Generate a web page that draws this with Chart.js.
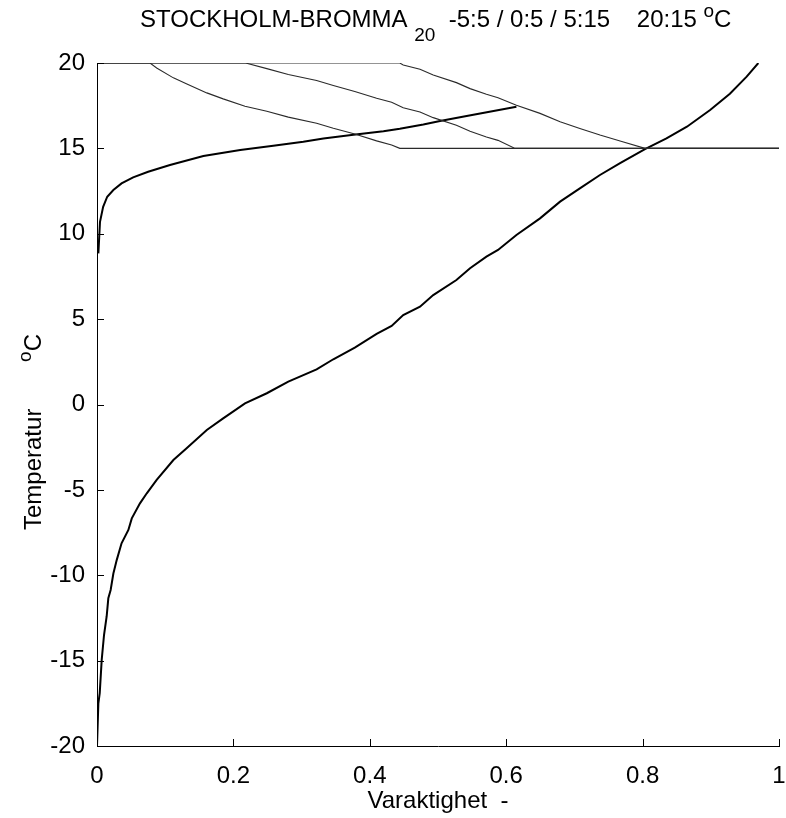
<!DOCTYPE html>
<html>
<head>
<meta charset="utf-8">
<title>STOCKHOLM-BROMMA</title>
<script src="https://cdn.jsdelivr.net/npm/chart.js@4/dist/chart.umd.min.js"></script>
<style>
  html, body { margin: 0; padding: 0; background: #fff; }
  #wrap { width: 786px; height: 818px; }
</style>
</head>
<body>
<div id="wrap"><canvas id="c" width="786" height="818"></canvas></div>
<script>
// Outdoor temperature duration curve (duration fraction -> temperature)
const durationX = [0, 0.002, 0.004, 0.0069, 0.0103, 0.0142, 0.0166, 0.020, 0.024, 0.029, 0.036, 0.046, 0.051, 0.063, 0.073, 0.0875, 0.112, 0.131, 0.161, 0.185, 0.217, 0.249, 0.2805, 0.322, 0.3465, 0.378, 0.41, 0.432, 0.449, 0.4736, 0.493, 0.527, 0.547, 0.571, 0.588, 0.615, 0.6496, 0.679, 0.708, 0.7375, 0.767, 0.8035, 0.835, 0.865, 0.899, 0.928, 0.9526, 0.9697];
const outdoorTemp = [-20, -17.5, -16.9, -14.96, -13.5, -12.4, -11.35, -10.86, -9.9, -9.1, -8.13, -7.35, -6.67, -5.79, -5.2, -4.42, -3.25, -2.57, -1.49, -0.81, 0.07, 0.66, 1.34, 2.06, 2.65, 3.33, 4.13, 4.6, 5.24, 5.73, 6.41, 7.29, 7.98, 8.66, 9.05, 9.93, 10.9, 11.88, 12.66, 13.44, 14.13, 14.95, 15.59, 16.27, 17.25, 18.2, 19.2, 20];

// Rising curve in the upper left
const recoveryX = [0.002, 0.0044, 0.009, 0.015, 0.024, 0.036, 0.053, 0.075, 0.107, 0.156, 0.21, 0.2585, 0.3025, 0.332, 0.376, 0.42, 0.444, 0.4785, 0.503, 0.542, 0.615];
const recoveryTemp = [8.85, 10.7, 11.58, 12.17, 12.56, 12.95, 13.3, 13.63, 14.03, 14.55, 14.9, 15.16, 15.39, 15.58, 15.8, 16.0, 16.15, 16.4, 16.6, 16.9, 17.44];

// Setpoint curves 20 -> 15 (-5:5, 0:10, 5:15)
const curveAX = [0, 0.0777, 0.0875, 0.112, 0.131, 0.161, 0.185, 0.217, 0.249, 0.2805, 0.322, 0.3465, 0.378, 0.41, 0.432, 0.444, 1];
const curveAY = [20, 20, 19.71, 19.13, 18.79, 18.25, 17.9, 17.47, 17.17, 16.83, 16.47, 16.18, 15.84, 15.44, 15.2, 15, 15];

const curveBX = [0, 0.218, 0.249, 0.2805, 0.322, 0.3465, 0.378, 0.41, 0.432, 0.449, 0.4736, 0.493, 0.527, 0.547, 0.571, 0.588, 0.613, 1];
const curveBY = [20, 20, 19.67, 19.33, 18.97, 18.68, 18.33, 17.93, 17.7, 17.38, 17.13, 16.8, 16.35, 16.0, 15.67, 15.47, 15, 15];

const curveCX = [0, 0.444, 0.449, 0.4736, 0.493, 0.527, 0.547, 0.571, 0.588, 0.615, 0.6496, 0.679, 0.708, 0.7375, 0.767, 0.8035, 1];
const curveCY = [20, 20, 19.88, 19.63, 19.3, 18.85, 18.5, 18.17, 17.97, 17.53, 17.05, 16.56, 16.17, 15.78, 15.43, 15, 15];

// Axis ticks
const xTickValues = [0, 0.2, 0.4, 0.6, 0.8, 1];
const yTickValues = [-20, -15, -10, -5, 0, 5, 10, 15, 20];

const FONT = '"Liberation Sans", Arial, Helvetica, sans-serif';
const pts = (xs, ys) => xs.map((x, i) => ({ x: x, y: ys[i] }));

const thin = { borderColor: '#2a2a2a', borderWidth: 1.1 };
const thick = { borderColor: '#000', borderWidth: 2 };

// Draws a run of text pieces (normal, sub, superscript) starting at x
function drawRun(ctx, parts, x, y) {
  parts.forEach(p => {
    ctx.font = p.f;
    ctx.fillText(p.t, x, y + p.dy);
    x += ctx.measureText(p.t).width;
  });
}

// Inward tick marks plus title and axis labels with sub/superscripts
const decorations = {
  id: 'decorations',
  afterDraw(chart) {
    const ctx = chart.ctx;
    const { left, bottom } = chart.chartArea;
    const xs = chart.scales.x, ys = chart.scales.y;
    ctx.save();
    ctx.strokeStyle = '#000';
    ctx.lineWidth = 1;
    xTickValues.forEach(v => {
      const px = Math.round(xs.getPixelForValue(v)) + 0.5;
      ctx.beginPath(); ctx.moveTo(px, bottom); ctx.lineTo(px, bottom - 7); ctx.stroke();
    });
    yTickValues.forEach(v => {
      const py = Math.round(ys.getPixelForValue(v)) + 0.5;
      ctx.beginPath(); ctx.moveTo(left, py); ctx.lineTo(left + 7, py); ctx.stroke();
    });

    ctx.fillStyle = '#000';
    ctx.textBaseline = 'alphabetic';
    ctx.textAlign = 'left';
    const big = '24px ' + FONT, small = '19px ' + FONT;

    // Title
    drawRun(ctx, [
      { t: 'STOCKHOLM-BROMMA ', f: big, dy: 0 },
      { t: '20', f: small, dy: 14 },
      { t: '  -5:5 / 0:5 / 5:15    20:15 ', f: big, dy: 0 },
      { t: 'o', f: small, dy: -10 },
      { t: 'C', f: big, dy: 0 }
    ], 140, 27);

    // X axis label
    ctx.font = big;
    ctx.textAlign = 'center';
    ctx.fillText('Varaktighet  -', 438, 808);

    // Y axis label (rotated)
    ctx.save();
    ctx.translate(41, 530);
    ctx.rotate(-Math.PI / 2);
    ctx.textAlign = 'left';
    drawRun(ctx, [
      { t: 'Temperatur       ', f: big, dy: 0 },
      { t: 'o', f: small, dy: -10 },
      { t: 'C', f: big, dy: 0 }
    ], 0, 0);
    ctx.restore();
    ctx.restore();
  }
};

new Chart(document.getElementById('c'), {
  type: 'line',
  data: {
    datasets: [
      { label: 'A', data: pts(curveAX, curveAY), ...thin },
      { label: 'B', data: pts(curveBX, curveBY), ...thin },
      { label: 'C', data: pts(curveCX, curveCY), ...thin },
      { label: 'upper', data: pts(recoveryX, recoveryTemp), ...thick },
      { label: 'outdoor', data: pts(durationX, outdoorTemp), ...thick }
    ]
  },
  options: {
    responsive: false,
    animation: false,
    devicePixelRatio: 1,
    layout: { padding: { left: 0, top: 63, right: 7, bottom: 0 } },
    elements: { point: { radius: 0 }, line: { tension: 0 } },
    plugins: { legend: { display: false }, tooltip: { enabled: false }, title: { display: false } },
    scales: {
      x: {
        type: 'linear', min: 0, max: 1,
        afterBuildTicks: s => { s.ticks = xTickValues.map(v => ({ value: v })); },
        afterFit: s => { s.height = 72; s.paddingLeft = 0; s.paddingRight = 0; },
        grid: { display: false },
        border: { display: true, color: '#000', width: 1 },
        ticks: { color: '#000', font: { family: FONT, size: 24 }, padding: 8, maxRotation: 0,
                 callback: v => String(+v.toFixed(1)) }
      },
      y: {
        type: 'linear', min: -20, max: 20,
        afterBuildTicks: s => { s.ticks = yTickValues.map(v => ({ value: v })); },
        afterFit: s => { s.width = 97; s.paddingTop = 0; s.paddingBottom = 0; },
        grid: { display: false },
        border: { display: true, color: '#000', width: 1 },
        ticks: { color: '#000', font: { family: FONT, size: 24 }, padding: 4,
                 callback: v => String(v) }
      }
    }
  },
  plugins: [decorations]
});
</script>
</body>
</html>
